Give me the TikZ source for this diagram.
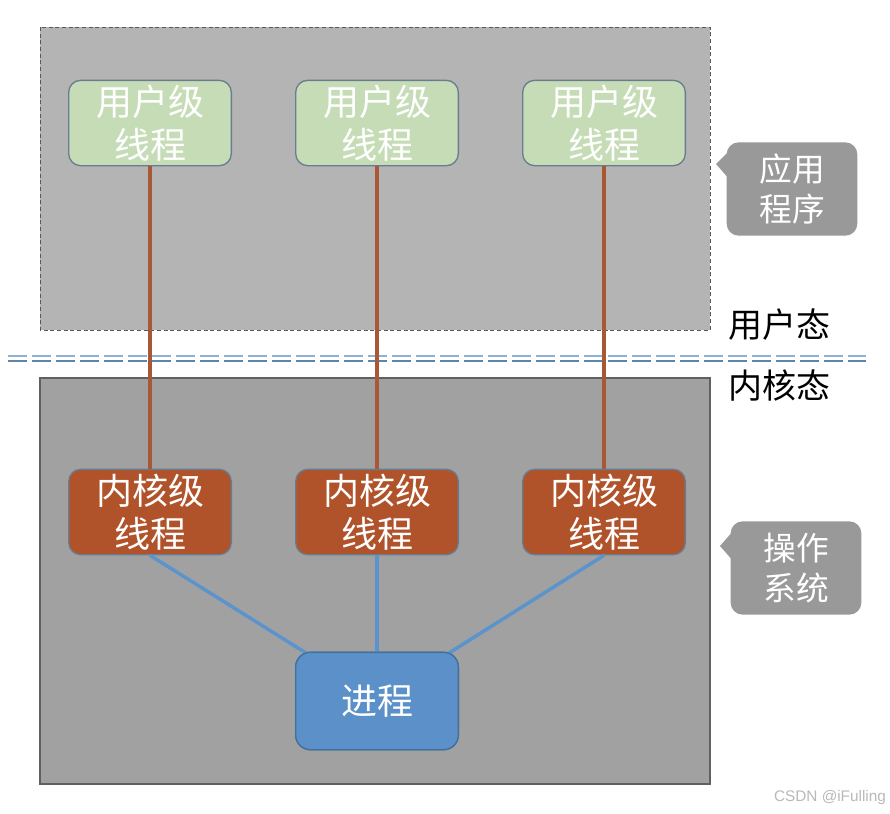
\documentclass[tikz,border=0pt]{standalone}
\usepackage{fontspec}
\newfontfamily\cjk{Noto Sans CJK SC}
\newfontfamily\wm{Liberation Sans}
\definecolor{topbg}{RGB}{180,180,180}
\definecolor{botbg}{RGB}{161,161,161}
\definecolor{greenfill}{RGB}{198,220,182}
\definecolor{rustfill}{RGB}{176,82,42}
\definecolor{procfill}{RGB}{91,144,201}
\definecolor{boxborder}{RGB}{105,125,145}
\definecolor{procborder}{RGB}{65,113,156}
\definecolor{brownline}{RGB}{168,88,52}
\definecolor{blueline}{RGB}{91,147,204}
\definecolor{calloutgray}{RGB}{153,153,153}
\definecolor{dashlight}{RGB}{143,176,207}
\definecolor{dashdark}{RGB}{93,134,173}
\tikzset{
  thread/.style={draw=boxborder, line width=1pt, rounded corners=9pt, minimum width=122pt, minimum height=64pt, inner sep=0pt, text=white, font=\cjk\fontsize{27}{32}\selectfont, align=center},
  userthr/.style={thread, fill=greenfill},
  kernthr/.style={thread, fill=rustfill},
  procbox/.style={draw=procborder, line width=1pt, rounded corners=11pt, fill=procfill, minimum width=122pt, minimum height=73pt, inner sep=0pt, text=white, font=\cjk\fontsize{27}{32}\selectfont},
  callout/.style={fill=calloutgray, rounded corners=9pt, minimum width=98pt, minimum height=70pt, inner sep=0pt, text=white, font=\cjk\fontsize{24.5}{30}\selectfont, align=center},
  statelabel/.style={font=\cjk\fontsize{25.5}{30}\selectfont, text=black, inner sep=0pt},
  upline/.style={brownline, line width=2.6pt},
  downline/.style={blueline, line width=2.6pt},
}
\begin{document}
\begin{tikzpicture}[x=0.75pt, y=-0.75pt]
\useasboundingbox (0,0) rectangle (890,814);
\fill[white] (0,0) rectangle (890,814);
% regions
\fill[topbg] (40,27) rectangle (710,330);
\draw[gray!70!black, densely dashed, line width=0.6pt] (40,27) rectangle (710,330);
\fill[botbg] (40,378) rectangle (710,784);
\draw[gray!75!black, line width=0.8pt] (40,378) rectangle (710,784);
% dashed separator
\draw[dashlight, line width=2.2pt, dash pattern=on 14pt off 4pt] (8,356) -- (866,356);
\draw[dashdark, line width=2.2pt, dash pattern=on 14pt off 4pt] (8,361) -- (866,361);
% user threads
\node[userthr] (u1) at (150,123) {用户级\\线程};
\node[userthr] (u2) at (377,123) {用户级\\线程};
\node[userthr] (u3) at (604,123) {用户级\\线程};
% kernel threads
\node[kernthr] (k1) at (150,512) {内核级\\线程};
\node[kernthr] (k2) at (377,512) {内核级\\线程};
\node[kernthr] (k3) at (604,512) {内核级\\线程};
% process
\node[procbox] (p) at (377,701) {进程};
\coordinate (pl) at (306,653);
\coordinate (pr) at (449,653);
% connectors
\draw[upline] (u1.south) -- (k1.north);
\draw[upline] (u2.south) -- (k2.north);
\draw[upline] (u3.south) -- (k3.north);
\draw[downline] (k1.south) -- (pl);
\draw[downline] (k2.south) -- (p.north);
\draw[downline] (k3.south) -- (pr);
\node[procbox] at (p) {进程};
% callouts
\node[callout] (app) at (792,189) {应用\\程序};
\fill[calloutgray] (730,150) -- (716,164) -- (730,180) -- cycle;
\node[callout] (os) at (796,568) {操作\\系统};
\fill[calloutgray] (734,530) -- (720,546) -- (734,562) -- cycle;
% state labels
\node[statelabel] (user) at (779,325) {用户态};
\node[statelabel] (kern) at (779,386) {内核态};
% watermark
\node[font=\wm\fontsize{11.5}{13}\selectfont, text=gray!55, inner sep=0pt] (wm) at (830,798) {CSDN @iFulling};
\end{tikzpicture}
\end{document}
